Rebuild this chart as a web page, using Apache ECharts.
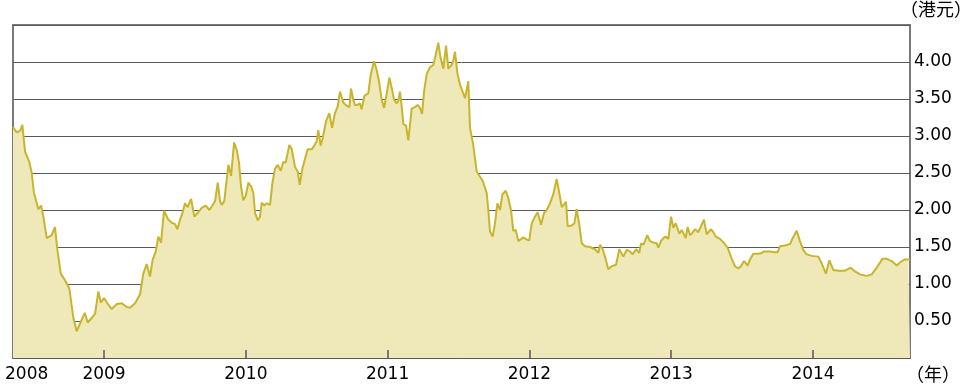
<!DOCTYPE html>
<html>
<head>
<meta charset="utf-8">
<script src="https://cdn.jsdelivr.net/npm/echarts@6/dist/echarts.min.js"></script>
<style>html,body{margin:0;padding:0;background:#fff}#c{width:969px;height:390px}</style>
</head>
<body>
<div id="c"></div>
<script>
// Decimal-year dates and share prices (HK$)
const years = [
2008.358,2008.365,2008.384,2008.408,2008.424,2008.443,2008.473,2008.490,2008.506,2008.520,
2008.537,2008.556,2008.572,2008.596,2008.631,2008.654,2008.671,2008.695,2008.725,2008.755,
2008.784,2008.807,2008.836,2008.864,2008.885,2008.913,2008.937,2008.960,2008.977,2009.000,
2009.023,2009.054,2009.090,2009.125,2009.160,2009.183,2009.219,2009.254,2009.277,2009.301,
2009.324,2009.343,2009.365,2009.383,2009.402,2009.423,2009.453,2009.477,2009.501,2009.517,
2009.536,2009.552,2009.571,2009.590,2009.614,2009.637,2009.665,2009.689,2009.717,2009.743,
2009.764,2009.783,2009.802,2009.818,2009.830,2009.848,2009.877,2009.896,2009.917,2009.936,
2009.952,2009.966,2009.982,2009.999,2010.018,2010.037,2010.053,2010.065,2010.084,2010.100,
2010.112,2010.130,2010.147,2010.171,2010.187,2010.206,2010.225,2010.246,2010.264,2010.281,
2010.307,2010.324,2010.347,2010.366,2010.380,2010.398,2010.417,2010.436,2010.465,2010.483,
2010.500,2010.511,2010.528,2010.542,2010.566,2010.589,2010.608,2010.629,2010.648,2010.664,
2010.688,2010.712,2010.730,2010.742,2010.758,2010.770,2010.786,2010.805,2010.817,2010.836,
2010.864,2010.881,2010.904,2010.923,2010.941,2010.958,2010.975,2010.994,2011.012,2011.029,
2011.045,2011.064,2011.075,2011.087,2011.099,2011.111,2011.130,2011.146,2011.170,2011.193,
2011.212,2011.228,2011.243,2011.257,2011.276,2011.299,2011.322,2011.334,2011.357,2011.374,
2011.393,2011.412,2011.428,2011.447,2011.463,2011.475,2011.492,2011.511,2011.546,2011.569,
2011.581,2011.604,2011.628,2011.652,2011.671,2011.699,2011.710,2011.722,2011.741,2011.757,
2011.774,2011.793,2011.809,2011.833,2011.851,2011.870,2011.886,2011.903,2011.922,2011.957,
2011.981,2011.999,2012.016,2012.039,2012.058,2012.082,2012.103,2012.122,2012.145,2012.168,
2012.192,2012.209,2012.228,2012.258,2012.270,2012.298,2012.317,2012.333,2012.352,2012.369,
2012.392,2012.427,2012.463,2012.486,2012.498,2012.517,2012.533,2012.556,2012.580,2012.611,
2012.634,2012.662,2012.686,2012.709,2012.728,2012.752,2012.775,2012.787,2012.803,2012.815,
2012.831,2012.850,2012.874,2012.898,2012.909,2012.928,2012.944,2012.961,2012.980,2012.999,
2013.015,2013.032,2013.043,2013.057,2013.074,2013.085,2013.102,2013.116,2013.133,2013.149,
2013.168,2013.191,2013.210,2013.231,2013.250,2013.267,2013.281,2013.297,2013.314,2013.344,
2013.374,2013.398,2013.427,2013.450,2013.473,2013.492,2013.513,2013.539,2013.556,2013.579,
2013.614,2013.638,2013.656,2013.697,2013.727,2013.751,2013.767,2013.802,2013.838,2013.854,
2013.885,2013.908,2013.931,2013.955,2013.991,2014.037,2014.061,2014.091,2014.115,2014.143,
2014.178,2014.226,2014.266,2014.296,2014.331,2014.379,2014.414,2014.449,2014.489,2014.520,
2014.555,2014.590,2014.613,2014.644,2014.672,2014.684
];
const prices = [
3.12,3.10,3.05,3.07,3.15,2.79,2.65,2.50,2.23,2.13,
2.01,2.06,1.91,1.62,1.66,1.77,1.46,1.14,1.05,0.94,
0.54,0.36,0.49,0.61,0.48,0.54,0.60,0.90,0.75,0.81,
0.74,0.66,0.73,0.74,0.69,0.68,0.74,0.86,1.14,1.27,
1.10,1.33,1.44,1.64,1.56,1.99,1.87,1.83,1.81,1.74,
1.87,1.95,2.09,2.04,2.15,1.91,1.97,2.03,2.06,2.00,
2.06,2.12,2.37,2.12,2.07,2.12,2.61,2.46,2.91,2.81,
2.64,2.32,2.13,2.19,2.37,2.32,2.23,1.96,1.86,1.91,
2.10,2.06,2.09,2.07,2.36,2.56,2.61,2.53,2.65,2.64,
2.88,2.82,2.58,2.52,2.34,2.55,2.69,2.82,2.82,2.87,
2.93,3.08,2.87,2.97,3.20,3.31,3.11,3.31,3.40,3.60,
3.45,3.41,3.39,3.64,3.49,3.42,3.42,3.44,3.36,3.54,
3.58,3.83,4.01,3.89,3.72,3.49,3.38,3.58,3.79,3.65,
3.49,3.44,3.47,3.60,3.40,3.16,3.14,2.94,3.37,3.39,
3.42,3.38,3.30,3.60,3.84,3.93,3.96,4.05,4.26,4.05,
3.91,4.22,3.91,3.95,4.01,4.14,3.85,3.69,3.51,3.74,
3.11,2.88,2.52,2.45,2.39,2.23,2.00,1.71,1.64,1.82,
2.09,2.00,2.21,2.26,2.16,2.00,1.72,1.73,1.58,1.63,
1.60,1.59,1.82,1.91,1.97,1.80,1.96,2.00,2.09,2.21,
2.42,2.25,2.04,2.11,1.78,1.79,1.82,2.01,1.80,1.55,
1.51,1.50,1.47,1.42,1.53,1.47,1.37,1.20,1.24,1.26,
1.47,1.37,1.46,1.44,1.40,1.47,1.42,1.55,1.53,1.58,
1.66,1.58,1.56,1.55,1.49,1.58,1.62,1.64,1.61,1.91,
1.76,1.82,1.76,1.68,1.73,1.69,1.62,1.77,1.66,1.69,
1.74,1.70,1.78,1.87,1.67,1.71,1.74,1.70,1.64,1.61,
1.55,1.49,1.34,1.24,1.21,1.24,1.31,1.25,1.33,1.41,
1.41,1.42,1.44,1.44,1.43,1.43,1.51,1.52,1.54,1.61,
1.72,1.58,1.46,1.40,1.38,1.37,1.28,1.14,1.32,1.19,
1.18,1.18,1.22,1.17,1.13,1.11,1.13,1.22,1.34,1.34,
1.31,1.25,1.29,1.33,1.33,1.33
];
const yearTicks = [2009, 2010, 2011, 2012, 2013, 2014];
const firstYearLabel = '2008';
const priceTicks = [0.5, 1.0, 1.5, 2.0, 2.5, 3.0, 3.5, 4.0];
const unitY = '（港元）';
const unitX = '（年）';

const FONT = 'DejaVu Sans';
const CJK = '"Noto Sans CJK TC", "Noto Sans CJK SC", sans-serif';
const chart = echarts.init(document.getElementById('c'), null, {renderer: 'canvas'});
chart.setOption({
  animation: false,
  backgroundColor: '#ffffff',
  grid: {left: 13, right: 59, top: 25, bottom: 32, show: true, borderColor: '#7a7a7a', borderWidth: 2, backgroundColor: '#ffffff'},
  xAxis: {
    type: 'value', min: years[0], max: years[years.length - 1], z: 10,
    axisLine: {show: false},
    splitLine: {show: false},
    axisTick: {show: true, inside: true, length: 8, customValues: yearTicks, lineStyle: {color: '#7a7a7a', width: 2}},
    axisLabel: {customValues: yearTicks, formatter: v => String(Math.round(v)), fontFamily: FONT, fontSize: 17, color: '#000', margin: 8}
  },
  yAxis: {
    type: 'value', position: 'right', min: 0, max: 4.5, interval: 0.5,
    axisLine: {show: false}, axisTick: {show: false},
    splitLine: {show: true, lineStyle: {color: '#5a5a5a', width: 1}},
    axisLabel: {customValues: priceTicks, formatter: v => v.toFixed(2), fontFamily: FONT, fontSize: 17, color: '#000', margin: 4}
  },
  graphic: [
    {type: 'text', left: 5, top: 366, style: {text: firstYearLabel, font: '17px "DejaVu Sans"', fill: '#000'}},
    {type: 'text', left: 900, top: 0, style: {text: unitY, font: '18px ' + CJK, fill: '#000'}},
    {type: 'text', left: 906, top: 365, style: {text: unitX, font: '18px ' + CJK, fill: '#000'}}
  ],
  series: [{
    type: 'line',
    data: years.map((t, i) => [t, prices[i]]),
    showSymbol: false,
    smooth: false,
    lineStyle: {color: '#c8b52b', width: 2},
    areaStyle: {color: '#efe9b9', opacity: 1},
    z: 2
  }]
});
</script>
</body>
</html>
